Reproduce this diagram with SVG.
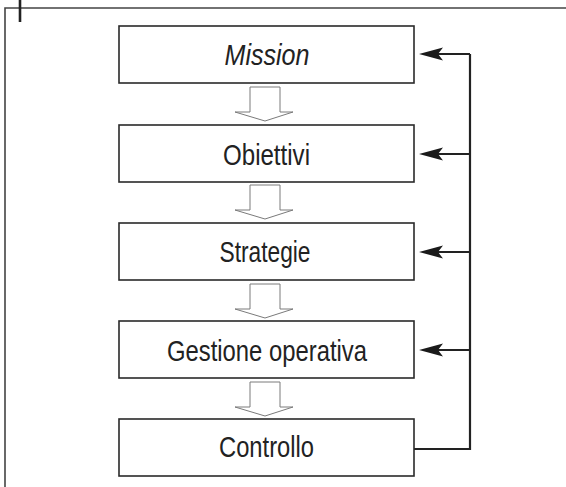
<svg xmlns="http://www.w3.org/2000/svg" width="566" height="487" viewBox="0 0 566 487">
<defs>
<style>
.box{fill:#fff;stroke:#2a2a2a;stroke-width:1.6}
.lbl{font-family:"Liberation Sans",Arial,sans-serif;font-size:29px;fill:#222;text-anchor:middle}
.hollow{fill:#fff;stroke:#7a7a7a;stroke-width:1}
.conn{fill:none;stroke:#222;stroke-width:2.2}
.frame{fill:none;stroke:#444;stroke-width:1.6}
</style>
<marker id="ah" markerUnits="userSpaceOnUse" viewBox="0 -7 25 14" markerWidth="25" markerHeight="14" refX="18" refY="0" orient="auto">
<path d="M0,-6.5 L24,0 L0,6.5 L5,0 Z" fill="#1a1a1a"/>
</marker>
<polygon id="harrow" class="hollow" points="0,0 30,0 30,25 43,25 15,34 -15,25 0,25"/>
</defs>
<g id="frame">
<polyline class="frame" points="566,8 5,8 5,487"/>
<line x1="20" y1="0" x2="20" y2="22" stroke="#222" stroke-width="2.6"/>
</g>
<g id="connectors">
<use href="#harrow" x="250" y="87"/>
<use href="#harrow" x="250" y="185"/>
<use href="#harrow" x="250" y="284"/>
<use href="#harrow" x="250" y="382"/>
<polyline class="conn" points="414,449 470,449 470,54"/>
<line class="conn" x1="470" y1="54" x2="425" y2="54" marker-end="url(#ah)"/>
<line class="conn" x1="470" y1="154" x2="425" y2="154" marker-end="url(#ah)"/>
<line class="conn" x1="470" y1="252" x2="425" y2="252" marker-end="url(#ah)"/>
<line class="conn" x1="470" y1="350" x2="425" y2="350" marker-end="url(#ah)"/>
</g>
<g id="mission">
<rect class="box" x="119" y="26" width="295" height="57"/>
<text class="lbl" x="267" y="65" font-style="italic" textLength="85" lengthAdjust="spacingAndGlyphs">Mission</text>
</g>
<g id="obiettivi">
<rect class="box" x="119" y="125" width="295" height="57"/>
<text class="lbl" x="266.5" y="164.5" textLength="87" lengthAdjust="spacingAndGlyphs">Obiettivi</text>
</g>
<g id="strategie">
<rect class="box" x="119" y="223" width="295" height="57"/>
<text class="lbl" x="265" y="261.5" textLength="91" lengthAdjust="spacingAndGlyphs">Strategie</text>
</g>
<g id="gestione">
<rect class="box" x="119" y="321" width="295" height="57"/>
<text class="lbl" x="267" y="360.5" textLength="200" lengthAdjust="spacingAndGlyphs">Gestione operativa</text>
</g>
<g id="controllo">
<rect class="box" x="119" y="419" width="295" height="57"/>
<text class="lbl" x="266.5" y="457" textLength="95" lengthAdjust="spacingAndGlyphs">Controllo</text>
</g>
</svg>
